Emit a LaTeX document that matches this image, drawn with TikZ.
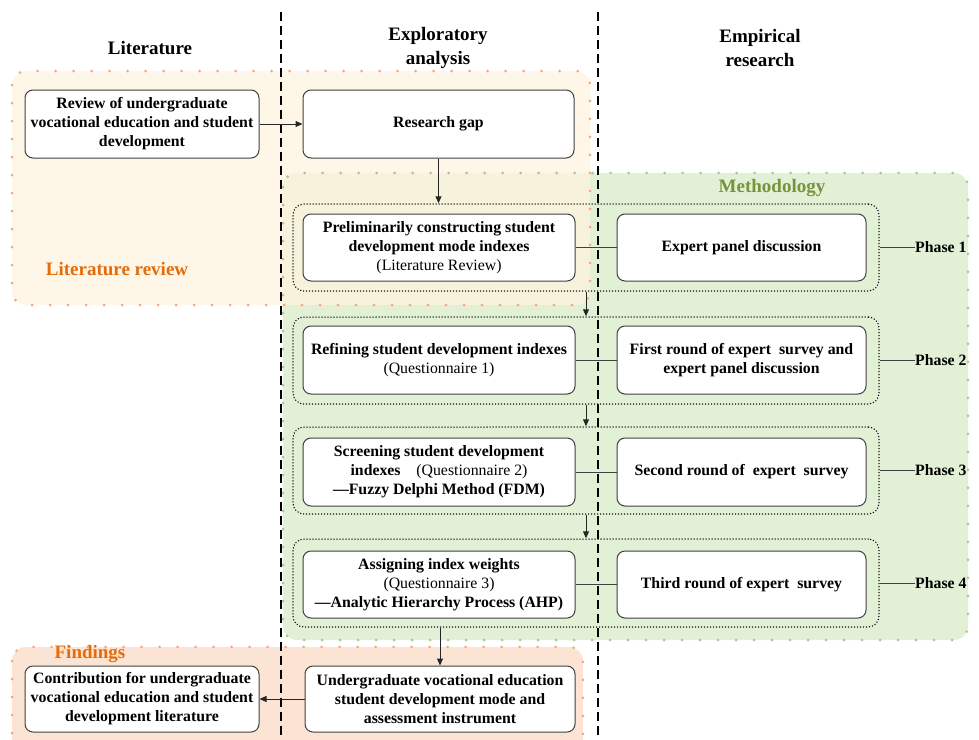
\documentclass[tikz,border=0pt]{standalone}
\usepackage{fontspec}
\setmainfont{Liberation Serif}
\usetikzlibrary{arrows.meta,calc}
\definecolor{litfill}{HTML}{FEF3DE}
\definecolor{metfill}{HTML}{E2F0D6}
\definecolor{finfill}{HTML}{FBE4D4}
\definecolor{orgdot}{HTML}{F5A878}
\definecolor{grndot}{HTML}{A8C890}
\definecolor{orglabel}{HTML}{E46C0A}
\definecolor{grnlabel}{HTML}{77933C}
\definecolor{boxline}{HTML}{404040}
\tikzset{
  txt/.style={font=\fontsize{15.8}{19}\selectfont\bfseries, align=center},
  hdr/.style={font=\fontsize{19}{24}\selectfont\bfseries, align=center},
  stepbox/.style={draw=boxline, line width=1pt, rounded corners=8pt, fill=white,
    txt, inner sep=0pt},
  grp/.style={draw=black, line width=1.5pt, dash pattern=on 0pt off 3pt, line cap=round,
    rounded corners=11pt, inner sep=0pt},
  region/.style={line width=3pt, dash pattern=on 0pt off 18pt, line cap=round, rounded corners=14pt},
  conn/.style={draw=boxline, line width=1pt},
  arr/.style={draw=black!85, line width=1pt, -{Triangle[length=7pt,width=6pt]}},
  vdash/.style={draw=black, line width=1.4pt, dash pattern=on 9pt off 5pt},
  lbl/.style={font=\fontsize{19}{22}\selectfont\bfseries},
}
\begin{document}
\begin{tikzpicture}[x=1pt,y=-1pt]
\useasboundingbox (0,0) rectangle (979,739);
% regions
\fill[metfill] (283,173) [rounded corners=14pt] rectangle (968,640);
\fill[litfill, fill opacity=0.75] (12,71) [rounded corners=14pt] rectangle (590,305);
\fill[finfill] (12,647) [rounded corners=14pt] rectangle (583,760);
\draw[region, draw=grndot] (283,173) rectangle (968,640);
\draw[region, draw=orgdot] (12,71) rectangle (590,305);
\draw[region, draw=orgdot] (12,647) rectangle (583,760);
% region labels
\node[lbl, text=orglabel] (litlbl) at (117,269) {Literature review};
\node[lbl, text=grnlabel] (metlbl) at (772,188) {Methodology};
\node[lbl, text=orglabel] (finlbl) at (90,654) {Findings};
% headers
\node[hdr] (h1) at (150,48) {Literature};
\node[hdr] (h2) at (438,48) {Exploratory\\analysis};
\node[hdr] (h3) at (760,48) {Empirical\\research};
% vertical dashed lines
\coordinate (d1t) at (281,12); \coordinate (d1b) at (281,739);
\coordinate (d2t) at (598,12); \coordinate (d2b) at (598,739);
\draw[vdash] (d1t) -- (d1b);
\draw[vdash] (d2t) -- (d2b);
% groups
\node[grp, minimum width=586pt, minimum height=87pt] (g1) at (586,247.5) {};
\node[grp, minimum width=586pt, minimum height=87pt] (g2) at (586,360.5) {};
\node[grp, minimum width=586pt, minimum height=87pt] (g3) at (586,470.5) {};
\node[grp, minimum width=586pt, minimum height=88pt] (g4) at (586,583) {};
% top boxes
\node[stepbox, minimum width=234pt, minimum height=68pt] (rev) at (142,124)
  {Review of undergraduate\\vocational education and student\\development};
\node[stepbox, minimum width=271pt, minimum height=68pt] (gap) at (438.5,124) {Research gap};
% phase boxes left
\node[stepbox, minimum width=272pt, minimum height=67pt] (l1) at (439,247.5)
  {Preliminarily constructing student\\development mode indexes\\\mdseries(Literature Review)};
\node[stepbox, minimum width=272pt, minimum height=68pt] (l2) at (439,360)
  {Refining student development indexes\\\mdseries(Questionnaire 1)};
\node[stepbox, minimum width=272pt, minimum height=68pt] (l3) at (439,472)
  {Screening student development\\indexes\quad{\mdseries(Questionnaire 2)}\\—Fuzzy Delphi Method (FDM)};
\node[stepbox, minimum width=272pt, minimum height=67pt] (l4) at (439,584.5)
  {Assigning index weights\\{\mdseries(Questionnaire 3)}\\—Analytic Hierarchy Process (AHP)};
% phase boxes right
\node[stepbox, minimum width=249pt, minimum height=67pt] (r1) at (741.5,247.5) {Expert panel discussion};
\node[stepbox, minimum width=249pt, minimum height=68pt] (r2) at (741.5,360)
  {First round of expert\ \ survey and\\expert panel discussion};
\node[stepbox, minimum width=249pt, minimum height=68pt] (r3) at (741.5,472) {Second round of\ \ expert\ \ survey};
\node[stepbox, minimum width=249pt, minimum height=67pt] (r4) at (741.5,584.5) {Third round of expert\ \ survey};
% phase labels
\node[txt, anchor=west, inner sep=0pt] (p1) at (915,247.5) {Phase 1};
\node[txt, anchor=west, inner sep=0pt] (p2) at (915,360.5) {Phase 2};
\node[txt, anchor=west, inner sep=0pt] (p3) at (915,470.5) {Phase 3};
\node[txt, anchor=west, inner sep=0pt] (p4) at (915,583) {Phase 4};
% bottom boxes
\node[stepbox, minimum width=234pt, minimum height=66pt] (con) at (142,699)
  {Contribution for undergraduate\\vocational education and student\\development literature};
\node[stepbox, minimum width=270pt, minimum height=66pt] (ug) at (440,699)
  {Undergraduate vocational education\\student development mode and\\assessment instrument};
% connectors
\draw[arr] (rev) -- (gap);
\draw[arr] (gap.south) -- (gap.south |- g1.north);
\draw[conn] (l1) -- (r1);
\draw[conn] (l2) -- (r2);
\draw[conn] (l3) -- (r3);
\draw[conn] (l4) -- (r4);
\draw[conn] (g1.east) -- (p1.west);
\draw[conn] (g2.east) -- (p2.west);
\draw[conn] (g3.east) -- (p3.west);
\draw[conn] (g4.east) -- (p4.west);
\draw[arr] (g1.south) -- (g2.north);
\draw[arr] (g2.south) -- (g3.north);
\draw[arr] (g3.south) -- (g4.north);
\draw[arr] (ug.north |- g4.south) -- (ug.north);
\draw[arr] (ug) -- (con);
\end{tikzpicture}
\end{document}
